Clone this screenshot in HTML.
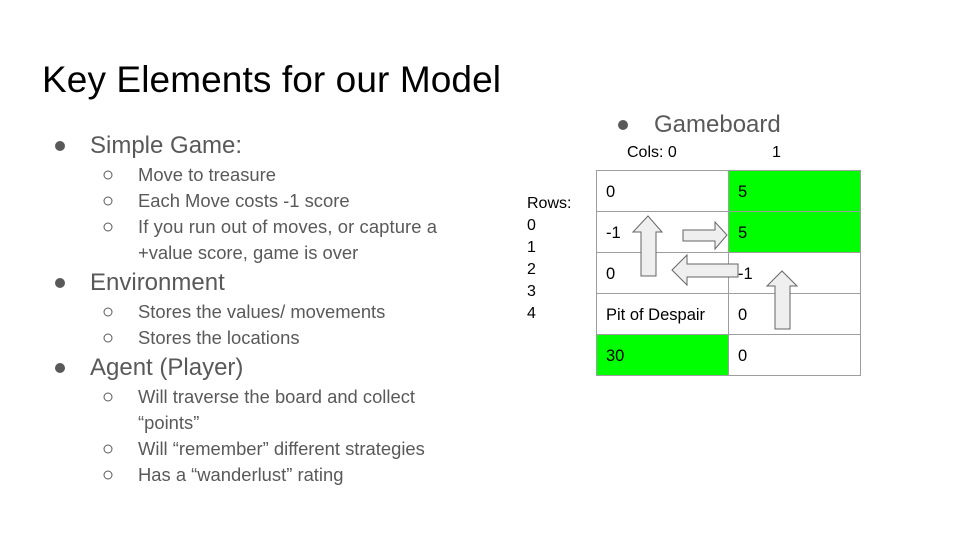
<!DOCTYPE html>
<html><head><meta charset="utf-8"><style>
body{margin:0;background:#fff}
svg{display:block;font-family:"Liberation Sans",Arial,sans-serif}
</style></head><body>
<svg width="960" height="540" viewBox="0 0 960 540" xmlns="http://www.w3.org/2000/svg">
<rect width="960" height="540" fill="#fff"/>
<text x="42" y="92" font-size="37" fill="#000" textLength="459">Key Elements for our Model</text>
<g fill="#595959">
<circle cx="60" cy="146" r="5"/>
<text x="90" y="153" font-size="24">Simple Game:</text>
<g font-size="18.4">
<text x="138" y="181">Move to treasure</text>
<text x="138" y="207">Each Move costs -1 score</text>
<text x="138" y="233" textLength="299">If you run out of moves, or capture a</text>
<text x="138" y="259">+value score, game is over</text>
</g>
<circle cx="60" cy="283" r="5"/>
<text x="90" y="290" font-size="24">Environment</text>
<g font-size="18.4">
<text x="138" y="318">Stores the values/ movements</text>
<text x="138" y="344">Stores the locations</text>
</g>
<circle cx="60" cy="368" r="5"/>
<text x="90" y="375" font-size="24">Agent (Player)</text>
<g font-size="18.4">
<text x="138" y="403">Will traverse the board and collect</text>
<text x="138" y="429">“points”</text>
<text x="138" y="455">Will “remember” different strategies</text>
<text x="138" y="481">Has a “wanderlust” rating</text>
</g>
<g fill="none" stroke="#595959" stroke-width="1">
<circle cx="108" cy="175" r="4"/><circle cx="108" cy="201" r="4"/><circle cx="108" cy="227" r="4"/>
<circle cx="108" cy="312" r="4"/><circle cx="108" cy="338" r="4"/>
<circle cx="108" cy="397" r="4"/><circle cx="108" cy="449" r="4"/><circle cx="108" cy="475" r="4"/>
</g>
<circle cx="623" cy="125" r="5"/>
<text x="654" y="132" font-size="24">Gameboard</text>
</g>
<g font-size="16" fill="#000">
<text x="627" y="157">Cols: 0</text>
<text x="772" y="157">1</text>
<text x="527" y="208">Rows:</text>
<text x="527" y="230">0</text>
<text x="527" y="252">1</text>
<text x="527" y="274">2</text>
<text x="527" y="296">3</text>
<text x="527" y="318">4</text>
</g>
<rect x="728" y="170" width="132" height="82" fill="#00ff00"/>
<rect x="596" y="334" width="132" height="41" fill="#00ff00"/>
<g stroke="#9e9e9e" stroke-width="1" fill="none">
<rect x="596.5" y="170.5" width="264" height="205"/>
<line x1="728.5" y1="170" x2="728.5" y2="375"/>
<line x1="596" y1="211.5" x2="860" y2="211.5"/>
<line x1="596" y1="252.5" x2="860" y2="252.5"/>
<line x1="596" y1="293.5" x2="860" y2="293.5"/>
<line x1="596" y1="334.5" x2="860" y2="334.5"/>
</g>
<g font-size="16.5" fill="#000">
<text x="606" y="197">0</text><text x="738" y="197">5</text>
<text x="606" y="238">-1</text><text x="738" y="238">5</text>
<text x="606" y="279">0</text>
<text x="606" y="320">Pit of Despair</text><text x="738" y="320">0</text>
<text x="606" y="361">30</text><text x="738" y="361">0</text>
</g>
<g fill="#efefef" stroke="#666" stroke-width="1">
<polygon points="641,276 656,276 656,232 662,232 648,216 633,232 641,232"/>
<polygon points="683,230 715,230 715,222 727,235 715,249 715,241 683,241"/>
<polygon points="738,264 687,264 687,255 672,270 687,285 687,277 738,277"/>
<polygon points="775,329 790,329 790,286 797,286 782,271 767,286 775,286"/>
</g>
<text x="738" y="279" font-size="16.5" fill="#000">-1</text>
</svg>
</body></html>
